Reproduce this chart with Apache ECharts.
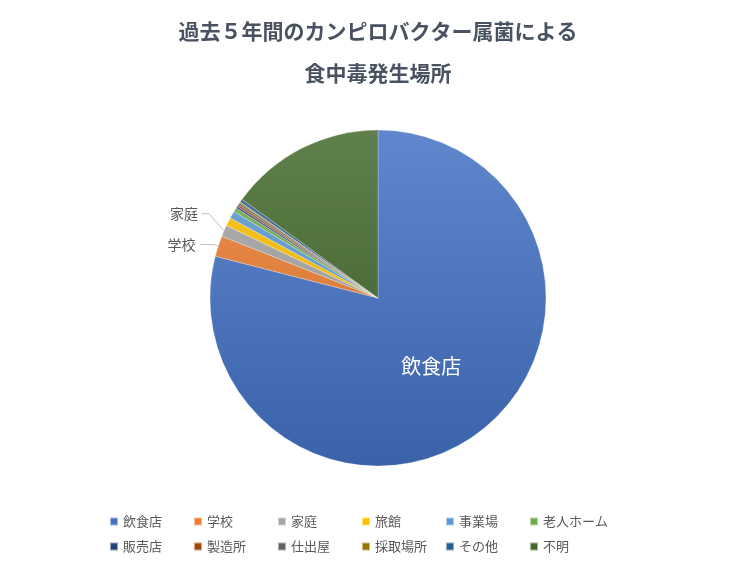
<!DOCTYPE html>
<html>
<head>
<meta charset="utf-8">
<script src="https://cdn.jsdelivr.net/npm/echarts@6/dist/echarts.min.js"></script>
<style>
html,body{margin:0;padding:0;background:#fff;}
#chart{width:756px;height:567px;}
</style>
</head>
<body>
<div id="chart"></div>
<script>
var titleText = '過去５年間のカンピロバクター属菌による\n食中毒発生場所';
var categories = ['飲食店','学校','家庭','旅館','事業場','老人ホーム','販売店','製造所','仕出屋','採取場所','その他','不明'];
var values = [790, 20, 11, 8, 7, 4, 2, 2, 2, 1, 3, 150];
var baseColors = ['#4472C4','#ED7D31','#A5A5A5','#FFC000','#5B9BD5','#70AD47','#264478','#9E480E','#636363','#997300','#255E91','#43682B'];
var labeled = {'飲食店':'inside','学校':'outside','家庭':'outside'};

function hexToRgb(h){h=h.replace('#','');return [parseInt(h.substr(0,2),16),parseInt(h.substr(2,2),16),parseInt(h.substr(4,2),16)];}
function mix(c, t, a){var r=hexToRgb(c);return 'rgb('+r.map(function(v,i){return Math.round(v+(t[i]-v)*a);}).join(',')+')';}

var cx = 378, cy = 298, R = 168;
function grad(c){
  return {type:'linear', x:cx, y:cy-R, x2:cx, y2:cy+R, global:true,
    colorStops:[{offset:0,color:mix(c,[255,255,255],0.15)},{offset:1,color:mix(c,[0,0,0],0.14)}]};
}

var data = categories.map(function(name,i){
  var item = {name:name, value:values[i], itemStyle:{color:grad(baseColors[i])}};
  var pos = labeled[name];
  if(pos === 'inside'){
    item.label = {show:true, position:'inside', color:'#ffffff', fontSize:20};
    item.labelLine = {show:false};
  } else if(pos === 'outside'){
    item.label = {show:true, position:'outside', color:'#595959', fontSize:14};
    item.labelLine = {show:true, length:5, length2:13, lineStyle:{color:'#bfbfbf', width:1}};
  } else {
    item.label = {show:false};
    item.labelLine = {show:false};
  }
  return item;
});

var chart = echarts.init(document.getElementById('chart'));
chart.setOption({
  animation:false,
  title:{
    text:titleText, left:'center', top:5,
    textStyle:{fontFamily:'Noto Sans CJK JP', fontSize:21, fontWeight:'bold', color:'#495260', lineHeight:42}
  },
  legend:{
    data:categories.map(function(n,i){return {name:n, itemStyle:{color:baseColors[i]}};}),
    left:104, top:507, width:520,
    orient:'horizontal',
    icon:'rect', itemWidth:8, itemHeight:8, itemGap:6,
    formatter:'{a|{name}}',
    textStyle:{fontFamily:'Noto Sans CJK JP', fontSize:13, color:'#595959',
      rich:{a:{width:64.0, fontSize:13, color:'#595959', fontFamily:'Noto Sans CJK JP', lineHeight:20, padding:[3,0,3,0]}}},
    selectedMode:false
  },
  series:[{
    type:'pie',
    center:[cx,cy], radius:R,
    startAngle:90, clockwise:true,
    avoidLabelOverlap:false,
    minShowLabelAngle:0,
    label:{fontFamily:'Noto Sans CJK JP'},
    itemStyle:{borderColor:'rgba(255,255,255,0.5)', borderWidth:0.5},
    emphasis:{disabled:true},
    labelLayout:function(p){
      var n = categories[p.dataIndex];
      if(n !== '家庭' || !p.labelLinePoints) return {};
      var a = p.labelLinePoints[0];
      var m = [a[0]-15, a[1]-17];
      var e = [m[0]-8, m[1]];
      return {x:e[0]-3, y:e[1], align:'right', verticalAlign:'middle', labelLinePoints:[a,m,e]};
    },
    data:data
  }]
});
</script>
</body>
</html>
